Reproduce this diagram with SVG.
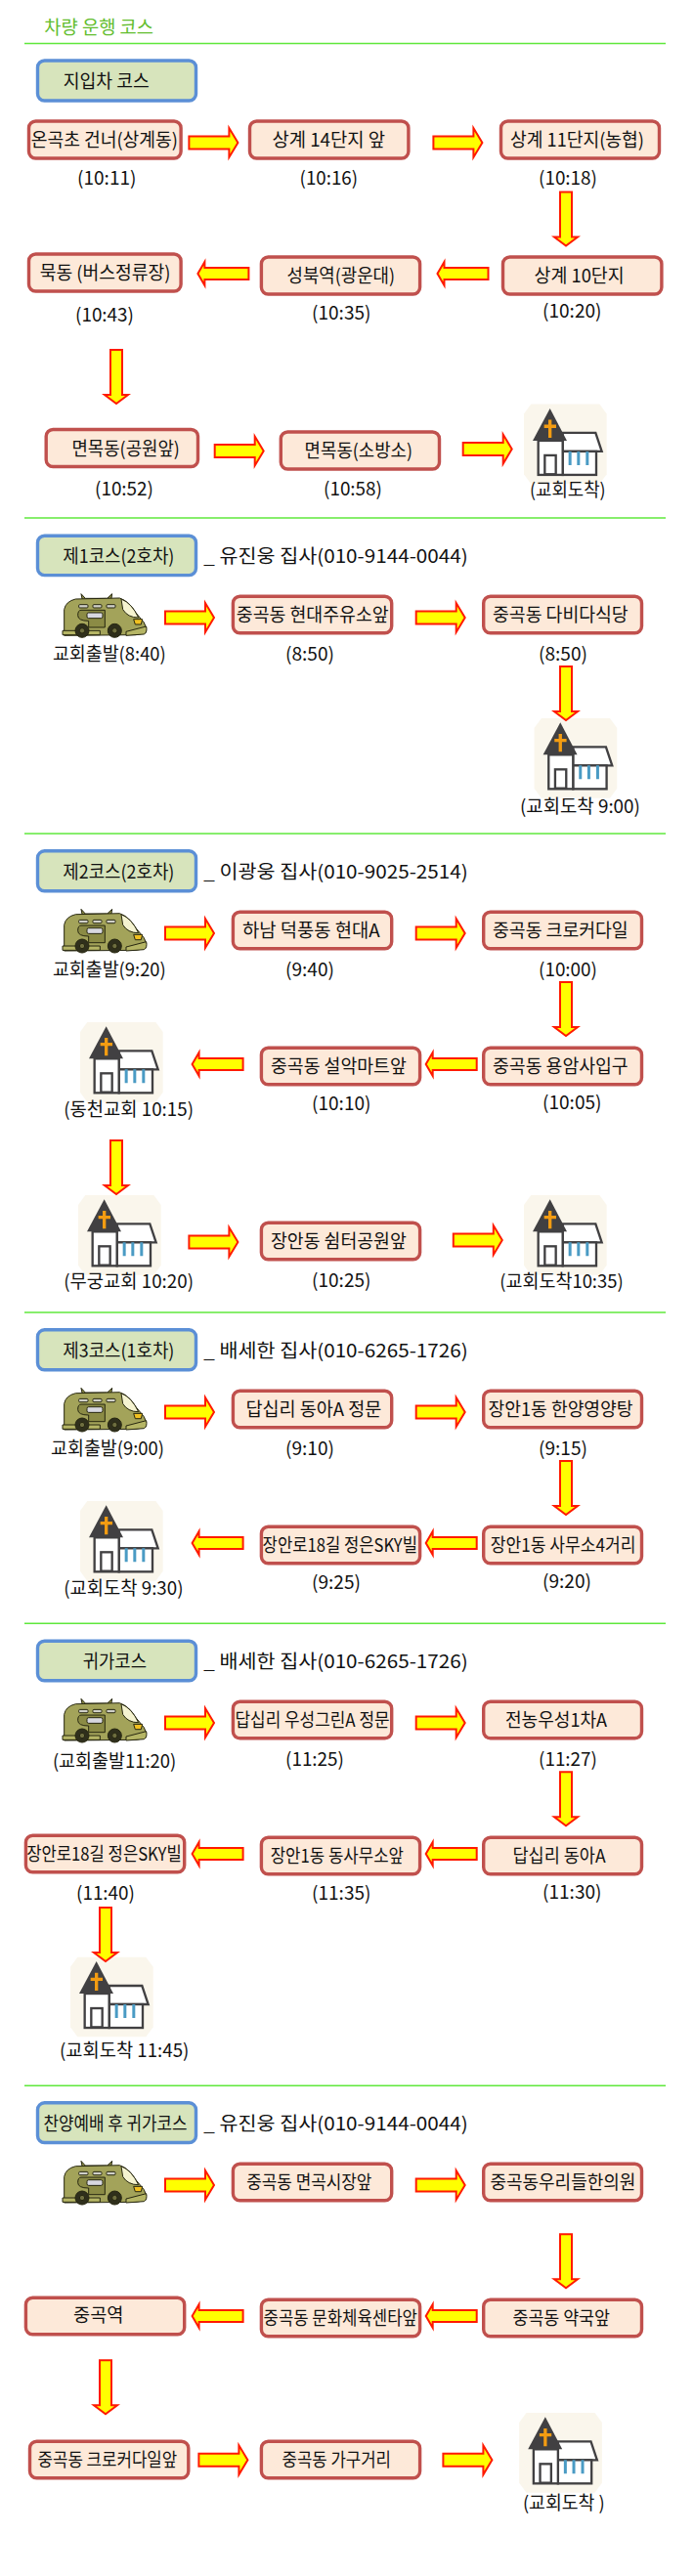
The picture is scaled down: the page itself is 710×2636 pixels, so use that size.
<svg xmlns="http://www.w3.org/2000/svg" width="710" height="2636" viewBox="0 0 710 2636">
<style>
text{font-family:"Noto Sans CJK KR","Noto Sans CJK SC",sans-serif;font-size:19px;fill:#111;transform:translateY(1px)}
.title{fill:#63bd2e}
.n{fill:#fde9d9;stroke:#c0504d;stroke-width:3.4}
.t{fill:#d7e4bc;stroke:#5b8fd6;stroke-width:3.4}
.a{fill:#ffff00;stroke:#ff1a00;stroke-width:2}
.l{stroke:#5fe83c;stroke-width:1.5}
</style>
<defs>
<polygon id="ar" class="a" points="0,8.5 41,8.5 41,0 50,15 41,30 41,21.5 0,21.5"/>
<polygon id="al" class="a" points="0,12 7,0 7,6 52,6 52,18 7,18 7,24"/>
<polygon id="ad" class="a" points="6,0 18,0 18,46 24,46 12,55 0,46 6,46"/>
<g id="church"><g transform="scale(.3333) translate(-78,-45)">
<path d="M100 45H310L332 75V260L310 290H100L78 260V75Z" fill="#faf6ec"/>
<path d="M197 133H298L317 190H197Z" fill="#fff" stroke="#414042" stroke-width="7"/>
<rect x="197" y="190" width="103" height="72" fill="#fff" stroke="#414042" stroke-width="7"/>
<path d="M215 190h9v42h-9zM241 190h9v42h-9zM268 190h9v42h-9z" fill="#4a9bc4"/>
<rect x="122" y="157" width="75" height="105" fill="#fff" stroke="#414042" stroke-width="7"/>
<rect x="142" y="202" width="34" height="58" fill="#fff" stroke="#414042" stroke-width="7"/>
<path d="M158 58L210 157H105Z" fill="#414042"/>
<path d="M153 93h10v15h14v10h-14v30h-10v-30h-13v-10h13z" fill="#f39c12"/>
</g></g>
<g id="van"><g transform="scale(.3333) translate(-135,-50)" stroke="#26260f" stroke-width="3">
<path d="M192 52L205 66H272L287 52L284 72H196Z" fill="#8f8f48"/>
<path d="M140 168V100Q145 75 175 68L310 65Q340 75 360 110L385 140Q396 158 390 172L360 178L140 180Z" fill="#a3a35a"/>
<path d="M315 68Q347 80 368 125Q335 125 320 100Z" fill="#f5f3d0"/>
<rect x="185" y="85" width="28" height="10" rx="3" fill="#d0d0c8"/>
<rect x="228" y="85" width="27" height="10" rx="3" fill="#d0d0c8"/>
<rect x="270" y="85" width="27" height="10" rx="3" fill="#d0d0c8"/>
<path d="M192 102H265V155H215V135Q182 135 182 118Q182 102 192 102Z" fill="#8b8b45"/>
<rect x="210" y="110" width="48" height="17" rx="5" fill="#d8d8e0"/>
<path d="M353 130H380L376 146H358Z" fill="#f0c020"/>
<path d="M135 165H250V178H135ZM330 168L392 152Q396 170 385 176L330 180Z" fill="#b5b565"/>
<circle cx="195" cy="165" r="21" fill="#2f2f1c"/><circle cx="195" cy="165" r="8" fill="#6e6e40"/>
<circle cx="295" cy="165" r="21" fill="#2f2f1c"/><circle cx="295" cy="165" r="8" fill="#6e6e40"/>
</g></g>
</defs>

<g id="rules">
<line class="l" x1="25" x2="681" y1="44.4" y2="44.4"/>
<line class="l" x1="25" x2="681" y1="530" y2="530"/>
<line class="l" x1="25" x2="681" y1="853" y2="853"/>
<line class="l" x1="25" x2="681" y1="1343" y2="1343"/>
<line class="l" x1="25" x2="681" y1="1661.3" y2="1661.3"/>
<line class="l" x1="25" x2="681" y1="2134.3" y2="2134.3"/>
</g>
<text id="title" class="title" x="45.3" y="34" textLength="111.7" lengthAdjust="spacingAndGlyphs">차량 운행 코스</text>

<!-- 지입차 코스 -->
<g id="tag0"><rect class="t" x="38.5" y="62" width="162" height="41" rx="7"/><text x="64.8" y="88.6" textLength="88" lengthAdjust="spacingAndGlyphs">지입차 코스</text></g>
<g id="n0-1"><rect class="n" x="29.5" y="124" width="155.6" height="38" rx="7"/><text x="31.7" y="149" textLength="150.3" lengthAdjust="spacingAndGlyphs">온곡초 건너(상계동)</text><text x="79" y="188.4" textLength="60.5" lengthAdjust="spacingAndGlyphs">(10:11)</text></g>
<g id="n0-2"><rect class="n" x="255.5" y="124" width="162.4" height="38" rx="7"/><text x="278.5" y="149" textLength="115.5" lengthAdjust="spacingAndGlyphs">상계 14단지 앞</text><text x="306.6" y="188.4" textLength="59.4" lengthAdjust="spacingAndGlyphs">(10:16)</text></g>
<g id="n0-3"><rect class="n" x="512.5" y="124" width="162" height="38" rx="7"/><text x="522" y="149" textLength="137" lengthAdjust="spacingAndGlyphs">상계 11단지(농협)</text><text x="551" y="188.4" textLength="60" lengthAdjust="spacingAndGlyphs">(10:18)</text></g>
<g id="n0-4"><rect class="n" x="514.5" y="263" width="162.4" height="38" rx="7"/><text x="546.6" y="288" textLength="92" lengthAdjust="spacingAndGlyphs">상계 10단지</text><text x="555" y="324" textLength="60.5" lengthAdjust="spacingAndGlyphs">(10:20)</text></g>
<g id="n0-5"><rect class="n" x="267.4" y="263" width="162.2" height="38" rx="7"/><text x="293.5" y="288" textLength="110.5" lengthAdjust="spacingAndGlyphs">성북역(광운대)</text><text x="319" y="326" textLength="60.5" lengthAdjust="spacingAndGlyphs">(10:35)</text></g>
<g id="n0-6"><rect class="n" x="29.5" y="260" width="155.6" height="38" rx="7"/><text x="40.8" y="285" textLength="133.6" lengthAdjust="spacingAndGlyphs">묵동 (버스정류장)</text><text x="77" y="328" textLength="60" lengthAdjust="spacingAndGlyphs">(10:43)</text></g>
<g id="n0-7"><rect class="n" x="47.2" y="439.5" width="155.3" height="38" rx="7"/><text x="73.4" y="465" textLength="110.5" lengthAdjust="spacingAndGlyphs">면목동(공원앞)</text><text x="97" y="505.6" textLength="60" lengthAdjust="spacingAndGlyphs">(10:52)</text></g>
<g id="n0-8"><rect class="n" x="287.3" y="442" width="162.2" height="38" rx="7"/><text x="311.6" y="467" textLength="110.4" lengthAdjust="spacingAndGlyphs">면목동(소방소)</text><text x="331" y="506" textLength="60" lengthAdjust="spacingAndGlyphs">(10:58)</text></g>
<g id="n0-9"><use href="#church" x="536" y="413.6"/><text x="542" y="507" textLength="77.6" lengthAdjust="spacingAndGlyphs">(교회도착)</text></g>

<!-- 제1코스 -->
<g id="tag1"><rect class="t" x="38.5" y="548.2" width="162" height="40.4" rx="7"/><text x="64.3" y="575" textLength="114.1" lengthAdjust="spacingAndGlyphs">제1코스(2호차)</text></g>
<text id="driver1" x="208.3" y="575" textLength="270.4" lengthAdjust="spacingAndGlyphs">_ 유진웅 집사(010-9144-0044)</text>
<g id="n1-1"><use href="#van" x="64" y="607"/><text x="53.9" y="674.7" textLength="115.9" lengthAdjust="spacingAndGlyphs">교회출발(8:40)</text></g>
<g id="n1-2"><rect class="n" x="238.4" y="610.2" width="162.3" height="37.6" rx="7"/><text x="241.8" y="635" textLength="155.8" lengthAdjust="spacingAndGlyphs">중곡동 현대주유소앞</text><text x="292" y="674.7" textLength="50" lengthAdjust="spacingAndGlyphs">(8:50)</text></g>
<g id="n1-3"><rect class="n" x="494.7" y="610.2" width="161.8" height="37.6" rx="7"/><text x="504" y="635" textLength="138.7" lengthAdjust="spacingAndGlyphs">중곡동 다비다식당</text><text x="551" y="674.7" textLength="50" lengthAdjust="spacingAndGlyphs">(8:50)</text></g>
<g id="n1-4"><use href="#church" x="546.6" y="735"/><text x="532" y="831" textLength="122.9" lengthAdjust="spacingAndGlyphs">(교회도착 9:00)</text></g>

<!-- 제2코스 -->
<g id="tag2"><rect class="t" x="38.5" y="870.8" width="162" height="41" rx="7"/><text x="64.3" y="897.7" textLength="114.1" lengthAdjust="spacingAndGlyphs">제2코스(2호차)</text></g>
<text id="driver2" x="208.3" y="897.7" textLength="270.4" lengthAdjust="spacingAndGlyphs">_ 이광웅 집사(010-9025-2514)</text>
<g id="n2-1"><use href="#van" x="64" y="929.7"/><text x="53.9" y="997.7" textLength="115.9" lengthAdjust="spacingAndGlyphs">교회출발(9:20)</text></g>
<g id="n2-2"><rect class="n" x="238.4" y="933.2" width="162.3" height="37.6" rx="7"/><text x="248" y="958" textLength="140.6" lengthAdjust="spacingAndGlyphs">하남 덕풍동 현대A</text><text x="292" y="997.7" textLength="50" lengthAdjust="spacingAndGlyphs">(9:40)</text></g>
<g id="n2-3"><rect class="n" x="494.7" y="933.2" width="161.8" height="37.6" rx="7"/><text x="504" y="958" textLength="138.7" lengthAdjust="spacingAndGlyphs">중곡동 크로커다일</text><text x="551" y="997.7" textLength="60" lengthAdjust="spacingAndGlyphs">(10:00)</text></g>
<g id="n2-4"><rect class="n" x="494.7" y="1072.2" width="161.8" height="37.6" rx="7"/><text x="504" y="1097" textLength="138.7" lengthAdjust="spacingAndGlyphs">중곡동 용암사입구</text><text x="555" y="1133.7" textLength="60.5" lengthAdjust="spacingAndGlyphs">(10:05)</text></g>
<g id="n2-5"><rect class="n" x="267.4" y="1072.2" width="162.2" height="37.6" rx="7"/><text x="277" y="1097" textLength="138.8" lengthAdjust="spacingAndGlyphs">중곡동 설악마트앞</text><text x="319" y="1135" textLength="60.5" lengthAdjust="spacingAndGlyphs">(10:10)</text></g>
<g id="n2-6"><use href="#church" x="82" y="1046"/><text x="65.2" y="1141" textLength="132.8" lengthAdjust="spacingAndGlyphs">(동천교회 10:15)</text></g>
<g id="n2-7"><use href="#church" x="80" y="1223"/><text x="65.2" y="1316.7" textLength="132.8" lengthAdjust="spacingAndGlyphs">(무궁교회 10:20)</text></g>
<g id="n2-8"><rect class="n" x="267.4" y="1251.2" width="162.2" height="37.6" rx="7"/><text x="277" y="1276" textLength="138.8" lengthAdjust="spacingAndGlyphs">장안동 쉼터공원앞</text><text x="319" y="1316" textLength="60.5" lengthAdjust="spacingAndGlyphs">(10:25)</text></g>
<g id="n2-9"><use href="#church" x="536" y="1223"/><text x="511.3" y="1316.7" textLength="126.4" lengthAdjust="spacingAndGlyphs">(교회도착10:35)</text></g>

<!-- 제3코스 -->
<g id="tag3"><rect class="t" x="38.5" y="1360.8" width="162" height="41" rx="7"/><text x="64.3" y="1387.7" textLength="114.1" lengthAdjust="spacingAndGlyphs">제3코스(1호차)</text></g>
<text id="driver3" x="208.3" y="1387.7" textLength="270.4" lengthAdjust="spacingAndGlyphs">_ 배세한 집사(010-6265-1726)</text>
<g id="n3-1"><use href="#van" x="64" y="1419.7"/><text x="52" y="1487.7" textLength="116" lengthAdjust="spacingAndGlyphs">교회출발(9:00)</text></g>
<g id="n3-2"><rect class="n" x="238.4" y="1423.2" width="162.3" height="37.6" rx="7"/><text x="251.4" y="1448" textLength="139" lengthAdjust="spacingAndGlyphs">답십리 동아A 정문</text><text x="292" y="1487.7" textLength="50" lengthAdjust="spacingAndGlyphs">(9:10)</text></g>
<g id="n3-3"><rect class="n" x="494.7" y="1423.2" width="161.8" height="37.6" rx="7"/><text x="499.5" y="1448" textLength="148.1" lengthAdjust="spacingAndGlyphs">장안1동 한양영양탕</text><text x="551" y="1487.7" textLength="50" lengthAdjust="spacingAndGlyphs">(9:15)</text></g>
<g id="n3-4"><rect class="n" x="494.7" y="1562.2" width="161.8" height="37.6" rx="7"/><text x="501.8" y="1587" textLength="148.6" lengthAdjust="spacingAndGlyphs">장안1동 사무소4거리</text><text x="555" y="1623.7" textLength="50" lengthAdjust="spacingAndGlyphs">(9:20)</text></g>
<g id="n3-5"><rect class="n" x="267.4" y="1562.2" width="162.2" height="37.6" rx="7"/><text x="268.6" y="1587" textLength="158.4" lengthAdjust="spacingAndGlyphs">장안로18길 정은SKY빌</text><text x="319" y="1625" textLength="50" lengthAdjust="spacingAndGlyphs">(9:25)</text></g>
<g id="n3-6"><use href="#church" x="82" y="1536"/><text x="65.2" y="1631" textLength="122.3" lengthAdjust="spacingAndGlyphs">(교회도착 9:30)</text></g>

<!-- 귀가코스 -->
<g id="tag4"><rect class="t" x="38.5" y="1679.2" width="162" height="40.6" rx="7"/><text x="84.7" y="1706" textLength="65.3" lengthAdjust="spacingAndGlyphs">귀가코스</text></g>
<text id="driver4" x="208.3" y="1706" textLength="270.4" lengthAdjust="spacingAndGlyphs">_ 배세한 집사(010-6265-1726)</text>
<g id="n4-1"><use href="#van" x="64" y="1737.7"/><text x="53.9" y="1808" textLength="126.4" lengthAdjust="spacingAndGlyphs">(교회출발11:20)</text></g>
<g id="n4-2"><rect class="n" x="238.4" y="1741.2" width="162.3" height="37.6" rx="7"/><text x="240.5" y="1766" textLength="158.1" lengthAdjust="spacingAndGlyphs">답십리 우성그린A 정문</text><text x="292" y="1806" textLength="60" lengthAdjust="spacingAndGlyphs">(11:25)</text></g>
<g id="n4-3"><rect class="n" x="494.7" y="1741.2" width="161.8" height="37.6" rx="7"/><text x="517" y="1766" textLength="104" lengthAdjust="spacingAndGlyphs">전농우성1차A</text><text x="551" y="1806" textLength="60" lengthAdjust="spacingAndGlyphs">(11:27)</text></g>
<g id="n4-4"><rect class="n" x="494.7" y="1880.2" width="161.8" height="37.6" rx="7"/><text x="524.5" y="1905" textLength="95.1" lengthAdjust="spacingAndGlyphs">답십리 동아A</text><text x="555" y="1941.7" textLength="60.5" lengthAdjust="spacingAndGlyphs">(11:30)</text></g>
<g id="n4-5"><rect class="n" x="267.4" y="1880.2" width="162.2" height="37.6" rx="7"/><text x="276.7" y="1905" textLength="136.3" lengthAdjust="spacingAndGlyphs">장안1동 동사무소앞</text><text x="319" y="1943" textLength="60.5" lengthAdjust="spacingAndGlyphs">(11:35)</text></g>
<g id="n4-6"><rect class="n" x="26.4" y="1878.2" width="162.3" height="37.6" rx="7"/><text x="27.2" y="1903" textLength="158.5" lengthAdjust="spacingAndGlyphs">장안로18길 정은SKY빌</text><text x="78" y="1943" textLength="60" lengthAdjust="spacingAndGlyphs">(11:40)</text></g>
<g id="n4-7"><use href="#church" x="72" y="2002.7"/><text x="61" y="2103.7" textLength="132.4" lengthAdjust="spacingAndGlyphs">(교회도착 11:45)</text></g>

<!-- 찬양예배 -->
<g id="tag5"><rect class="t" x="38.5" y="2151.8" width="162" height="40.7" rx="7"/><text x="44.4" y="2178.7" textLength="147.2" lengthAdjust="spacingAndGlyphs">찬양예배 후 귀가코스</text></g>
<text id="driver5" x="208.3" y="2178.7" textLength="270.4" lengthAdjust="spacingAndGlyphs">_ 유진웅 집사(010-9144-0044)</text>
<g id="n5-1"><use href="#van" x="64" y="2210.7"/></g>
<g id="n5-2"><rect class="n" x="238.4" y="2214.2" width="162.3" height="37.6" rx="7"/><text x="252.3" y="2239" textLength="128.1" lengthAdjust="spacingAndGlyphs">중곡동 면곡시장앞</text></g>
<g id="n5-3"><rect class="n" x="494.7" y="2214.2" width="161.8" height="37.6" rx="7"/><text x="501.4" y="2239" textLength="149" lengthAdjust="spacingAndGlyphs">중곡동우리들한의원</text></g>
<g id="n5-4"><rect class="n" x="494.7" y="2353.2" width="161.8" height="37.6" rx="7"/><text x="524.5" y="2378" textLength="99.5" lengthAdjust="spacingAndGlyphs">중곡동 약국앞</text></g>
<g id="n5-5"><rect class="n" x="267.4" y="2353.2" width="162.2" height="37.6" rx="7"/><text x="269.5" y="2378" textLength="157.5" lengthAdjust="spacingAndGlyphs">중곡동 문화체육센타앞</text></g>
<g id="n5-6"><rect class="n" x="26.4" y="2351.2" width="162.3" height="37.6" rx="7"/><text x="75" y="2375" textLength="51.4" lengthAdjust="spacingAndGlyphs">중곡역</text></g>
<g id="n5-7"><rect class="n" x="30.5" y="2498.2" width="162.3" height="37.6" rx="7"/><text x="38.5" y="2523" textLength="142.7" lengthAdjust="spacingAndGlyphs">중곡동 크로커다일앞</text></g>
<g id="n5-8"><rect class="n" x="267.4" y="2498.2" width="162.2" height="37.6" rx="7"/><text x="288.5" y="2523" textLength="111.5" lengthAdjust="spacingAndGlyphs">중곡동 가구거리</text></g>
<g id="n5-9"><use href="#church" x="531.2" y="2469"/><text x="534.9" y="2566.7" textLength="83.8" lengthAdjust="spacingAndGlyphs">(교회도착 )</text></g>

<g id="connectors">
<use href="#ar" x="193.4" y="131"/><use href="#ar" x="443.4" y="131"/><use href="#ad" x="567" y="196.5"/>
<use href="#al" x="447.5" y="268"/><use href="#al" x="202.4" y="268"/><use href="#ad" x="107" y="358"/>
<use href="#ar" x="219.7" y="446.5"/><use href="#ar" x="473.7" y="444.6"/>

<use href="#ar" x="169" y="617"/><use href="#ar" x="425.7" y="617"/><use href="#ad" x="567" y="682"/>

<use href="#ar" x="169" y="940"/><use href="#ar" x="425.7" y="940"/><use href="#ad" x="567" y="1005"/>
<use href="#al" x="435.7" y="1077"/><use href="#al" x="196.6" y="1077"/><use href="#ad" x="107" y="1167"/>
<use href="#ar" x="193.4" y="1256"/><use href="#ar" x="463.8" y="1254"/>

<use href="#ar" x="169" y="1430"/><use href="#ar" x="425.7" y="1430"/><use href="#ad" x="567" y="1495"/>
<use href="#al" x="435.7" y="1567"/><use href="#al" x="196.6" y="1567"/>

<use href="#ar" x="169" y="1748"/><use href="#ar" x="425.7" y="1748"/><use href="#ad" x="567" y="1813.3"/>
<use href="#al" x="435.7" y="1885"/><use href="#al" x="196.6" y="1885"/><use href="#ad" x="96" y="1952"/>

<use href="#ar" x="169" y="2221"/><use href="#ar" x="425.7" y="2221"/><use href="#ad" x="567" y="2286.3"/>
<use href="#al" x="435.7" y="2358"/><use href="#al" x="196.6" y="2358"/><use href="#ad" x="96" y="2415.3"/>
<use href="#ar" x="203.4" y="2502.3"/><use href="#ar" x="453.4" y="2502.3"/>
</g>
</svg>
